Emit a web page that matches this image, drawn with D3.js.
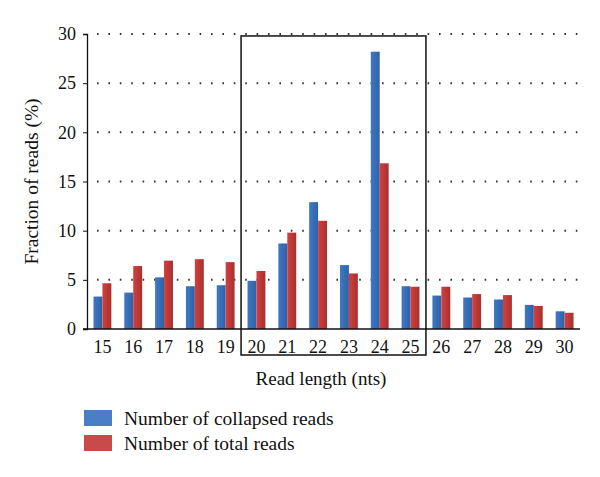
<!DOCTYPE html>
<html lang="en">
<head>
<meta charset="UTF-8">
<title>Read length distribution</title>
<script src="https://d3js.org/d3.v7.min.js"></script>
<style>
  body { margin: 0; background: #fff; }
  svg text { font-family: "Liberation Serif", "DejaVu Serif", serif !important; fill: #111; }
</style>
</head>
<body>
<div id="chart"></div>
<script>
// read lengths (nts)
const lengths = ["15","16","17","18","19","20","21","22","23","24","25","26","27","28","29","30"];
// fraction of reads (%)
const collapsed = [3.3, 3.7, 5.25, 4.35, 4.45, 4.9, 8.7, 12.9, 6.5, 28.2, 4.35, 3.4, 3.2, 3.0, 2.45, 1.8];
const total     = [4.65, 6.4, 6.95, 7.1, 6.8, 5.9, 9.8, 11.0, 5.65, 16.85, 4.3, 4.3, 3.55, 3.45, 2.35, 1.65];
const yTicks = [0, 5, 10, 15, 20, 25, 30];
const boxed = ["20", "25"]; // first and last length inside the box
const seriesNames = ["Number of collapsed reads", "Number of total reads"];

const width = 600, height = 477;
const m = { left: 87, right: 20, top: 34, bottom: 148 };

const svg = d3.select("#chart").append("svg")
  .attr("width", width).attr("height", height);

const defs = svg.append("defs");
function grad(id, c0, c1) {
  const g = defs.append("linearGradient").attr("id", id)
    .attr("x1", "0%").attr("x2", "100%").attr("y1", "0%").attr("y2", "0%");
  g.append("stop").attr("offset", "0%").attr("stop-color", c0);
  g.append("stop").attr("offset", "100%").attr("stop-color", c1);
}
grad("gBlue", "#3f78c4", "#2f62a6");
grad("gRed", "#d2403f", "#a8302e");

const x = d3.scaleBand().domain(lengths)
  .range([m.left, width - m.right]).paddingInner(0.42).paddingOuter(0.21);
const sub = d3.scaleBand().domain([0, 1]).range([0, x.bandwidth()]);
const y = d3.scaleLinear().domain([0, 30]).range([height - m.bottom, m.top]);

// dotted gridlines
svg.append("g").selectAll("line").data(yTicks.slice(1)).join("line")
  .attr("x1", m.left + 10).attr("x2", width - m.right)
  .attr("y1", d => y(d)).attr("y2", d => y(d))
  .attr("stroke", "#333").attr("stroke-width", 2)
  .attr("stroke-dasharray", "1.6 9.8");

// bars
const groups = svg.append("g").selectAll("g").data(lengths).join("g")
  .attr("transform", d => `translate(${x(d)},0)`);
groups.append("rect")
  .attr("x", sub(0)).attr("width", sub.bandwidth())
  .attr("y", (d, i) => y(collapsed[i]))
  .attr("height", (d, i) => y(0) - y(collapsed[i]))
  .attr("fill", "url(#gBlue)");
groups.append("rect")
  .attr("x", sub(1)).attr("width", sub.bandwidth())
  .attr("y", (d, i) => y(total[i]))
  .attr("height", (d, i) => y(0) - y(total[i]))
  .attr("fill", "url(#gRed)");

// y axis
const yAxis = svg.append("g").attr("transform", `translate(${m.left},0)`)
  .call(d3.axisLeft(y).tickValues(yTicks).tickSize(4).tickPadding(7));
yAxis.select(".domain").attr("stroke", "#111").attr("stroke-width", 1.3);
yAxis.selectAll(".tick line").attr("stroke", "#111");
yAxis.selectAll("text").attr("font-size", 18);

// x axis
svg.append("line")
  .attr("x1", m.left - 4).attr("x2", width - m.right)
  .attr("y1", y(0)).attr("y2", y(0))
  .attr("stroke", "#111").attr("stroke-width", 1.3);
svg.append("g").selectAll("text").data(lengths).join("text")
  .attr("x", d => x(d) + x.bandwidth() / 2)
  .attr("y", y(0) + 24)
  .attr("text-anchor", "middle").attr("font-size", 18)
  .text(d => d);

// highlight box
const step = x.step();
const bx0 = x(boxed[0]) + x.bandwidth() / 2 - step / 2;
const bx1 = x(boxed[1]) + x.bandwidth() / 2 + step / 2;
svg.append("rect")
  .attr("x", bx0).attr("y", y(29.8))
  .attr("width", bx1 - bx0).attr("height", y(0) + 26 - y(29.8))
  .attr("fill", "none").attr("stroke", "#111").attr("stroke-width", 1.5);

// axis titles
svg.append("text")
  .attr("transform", `translate(38,${(y(0) + y(30)) / 2}) rotate(-90)`)
  .attr("text-anchor", "middle").attr("font-size", 19.5)
  .text("Fraction of reads (%)");
svg.append("text")
  .attr("x", 321).attr("y", 385)
  .attr("text-anchor", "middle").attr("font-size", 19)
  .text("Read length (nts)");

// legend
const legend = svg.append("g").attr("transform", "translate(84,410)");
const items = legend.selectAll("g").data(seriesNames).join("g")
  .attr("transform", (d, i) => `translate(0,${i * 25})`);
items.append("rect").attr("width", 28).attr("height", 16)
  .attr("fill", (d, i) => i === 0 ? "#4a7ec6" : "#c84b49");
items.append("text").attr("x", 40).attr("y", 14.5)
  .attr("font-size", 19.5).text(d => d);
</script>
</body>
</html>
